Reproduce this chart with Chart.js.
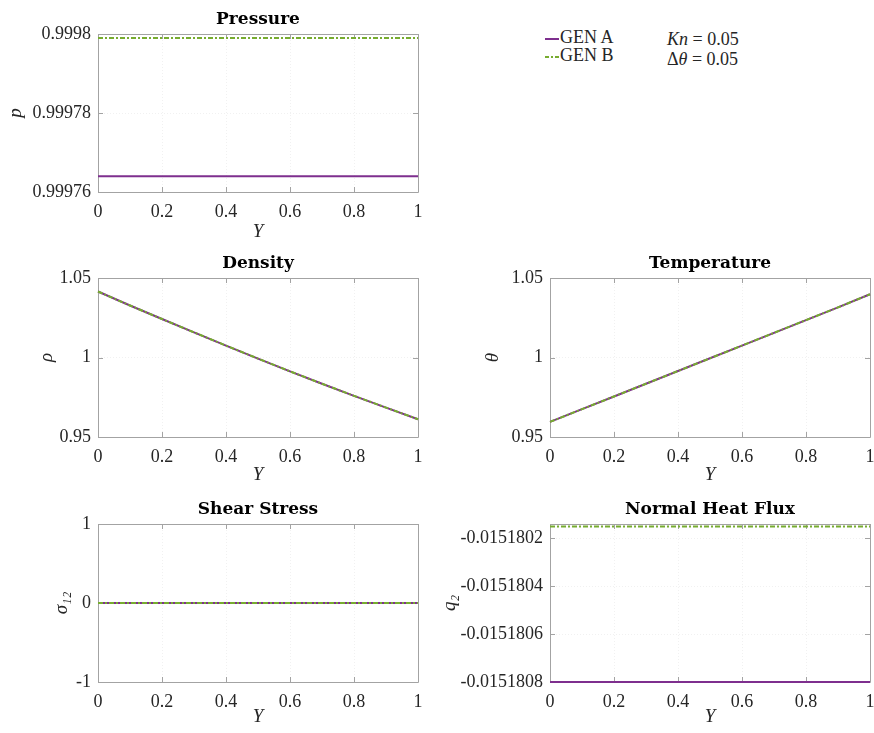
<!DOCTYPE html>
<html>
<head>
<meta charset="utf-8">
<script src="https://cdn.jsdelivr.net/npm/chart.js@4.4.1/dist/chart.umd.min.js"></script>
<style>
  html, body { margin: 0; padding: 0; background: #fff; }
  body { width: 874px; height: 733px; position: relative; overflow: hidden; }
  .painel { position: absolute; }
  .legenda {
    position: absolute;
    font-family: "Liberation Serif", serif;
    font-size: 18px;
    color: #262626;
    line-height: 18px;
  }
  .legenda svg { vertical-align: middle; margin-right: 1px; }
</style>
</head>
<body>
<div class="painel" style="left:0;top:0;width:437px;height:245px"><canvas id="graficoPressao"></canvas></div>
<div class="painel" style="left:0;top:245px;width:437px;height:245px"><canvas id="graficoDensidade"></canvas></div>
<div class="painel" style="left:437px;top:245px;width:437px;height:245px"><canvas id="graficoTemperatura"></canvas></div>
<div class="painel" style="left:0;top:490px;width:437px;height:243px"><canvas id="graficoCisalhamento"></canvas></div>
<div class="painel" style="left:437px;top:490px;width:437px;height:243px"><canvas id="graficoFluxo"></canvas></div>

<div class="legenda" style="left:545px;top:28px">
  <div><svg width="14" height="6"><line x1="0" y1="3" x2="14" y2="3" stroke="#7E2F8E" stroke-width="2"/></svg>GEN A</div>
  <div><svg width="14" height="6"><line x1="0" y1="3" x2="14" y2="3" stroke="#77AC30" stroke-width="2" stroke-dasharray="4,2,2,2"/></svg>GEN B</div>
</div>
<div class="legenda" style="left:667px;top:29px;line-height:20px">
  <div><i>Kn</i> = 0.05</div>
  <div>&Delta;<i>&theta;</i> = 0.05</div>
</div>

<script>
// posicoes ao longo do canal
const posY = [0, 0.1, 0.2, 0.3, 0.4, 0.5, 0.6, 0.7, 0.8, 0.9, 1];

const pressaoGenA = [0.999764, 0.999764, 0.999764, 0.999764, 0.999764, 0.999764, 0.999764, 0.999764, 0.999764, 0.999764, 0.999764];
const pressaoGenB = [0.999799, 0.999799, 0.999799, 0.999799, 0.999799, 0.999799, 0.999799, 0.999799, 0.999799, 0.999799, 0.999799];

const densidadeGenA = [1.0415, 1.0327, 1.0242, 1.0158, 1.0075, 0.9993, 0.9913, 0.9835, 0.9759, 0.9685, 0.9612];
const densidadeGenB = [1.0415, 1.0327, 1.0242, 1.0158, 1.0075, 0.9993, 0.9913, 0.9835, 0.9759, 0.9685, 0.9612];

const temperaturaGenA = [0.9595, 0.9675, 0.9755, 0.9835, 0.9915, 0.9995, 1.0075, 1.0155, 1.0235, 1.0315, 1.0398];
const temperaturaGenB = [0.9595, 0.9675, 0.9755, 0.9835, 0.9915, 0.9995, 1.0075, 1.0155, 1.0235, 1.0315, 1.0398];

const cisalhamentoGenA = [0, 0, 0, 0, 0, 0, 0, 0, 0, 0, 0];
const cisalhamentoGenB = [0, 0, 0, 0, 0, 0, 0, 0, 0, 0, 0];

const fluxoGenA = [-0.0151808, -0.0151808, -0.0151808, -0.0151808, -0.0151808, -0.0151808, -0.0151808, -0.0151808, -0.0151808, -0.0151808, -0.0151808];
const fluxoGenB = [-0.01518015, -0.01518015, -0.01518015, -0.01518015, -0.01518015, -0.01518015, -0.01518015, -0.01518015, -0.01518015, -0.01518015, -0.01518015];

// ticks
const xTicks = [0, 0.2, 0.4, 0.6, 0.8, 1];
const xTickLabels = ["0", "0.2", "0.4", "0.6", "0.8", "1"];
const pressaoTicks = [0.99976, 0.99978, 0.9998];
const pressaoTickLabels = ["0.99976", "0.99978", "0.9998"];
const densidadeTicks = [0.95, 1, 1.05];
const densidadeTickLabels = ["0.95", "1", "1.05"];
const temperaturaTicks = [0.95, 1, 1.05];
const temperaturaTickLabels = ["0.95", "1", "1.05"];
const cisalhamentoTicks = [-1, 0, 1];
const cisalhamentoTickLabels = ["-1", "0", "1"];
const fluxoTicks = [-0.0151808, -0.0151806, -0.0151804, -0.0151802];
const fluxoTickLabels = ["-0.0151808", "-0.0151806", "-0.0151804", "-0.0151802"];

const corGenA = "#7E2F8E";
const corGenB = "#77AC30";
const corEixo = "#a3a3a3";
const corTexto = "#262626";
const fonteSerif = "'Liberation Serif', serif";

// moldura estilo matlab: caixa, ticks para dentro e titulo
const molduraPlugin = {
  id: "moldura",
  beforeDatasetsDraw(chart, args, opts) {
    const { ctx, chartArea } = chart;
    const { left, right, top, bottom } = chartArea;
    const tam = 5;
    ctx.save();
    ctx.strokeStyle = corEixo;
    ctx.lineWidth = 1;
    ctx.beginPath();
    ctx.rect(Math.round(left) + 0.5, Math.round(top) + 0.5, Math.round(right - left), Math.round(bottom - top));
    chart.scales.x.ticks.forEach(t => {
      const px = Math.round(chart.scales.x.getPixelForValue(t.value)) + 0.5;
      ctx.moveTo(px, bottom); ctx.lineTo(px, bottom - tam);
      ctx.moveTo(px, top); ctx.lineTo(px, top + tam);
    });
    chart.scales.y.ticks.forEach(t => {
      const py = Math.round(chart.scales.y.getPixelForValue(t.value)) + 0.5;
      ctx.moveTo(left, py); ctx.lineTo(left + tam, py);
      ctx.moveTo(right, py); ctx.lineTo(right - tam, py);
    });
    ctx.stroke();

    ctx.fillStyle = "#000";
    ctx.font = "bold 17px 'DejaVu Serif', serif";
    ctx.textAlign = "center";
    ctx.textBaseline = "middle";
    ctx.fillText(opts.texto, (left + right) / 2, top - 14);
    ctx.restore();
  }
};

function criarGrafico(canvasId, cfg) {
  const canvas = document.getElementById(canvasId);
  return new Chart(canvas, {
    type: "line",
    data: {
      datasets: [
        {
          label: "GEN A",
          data: posY.map((x, i) => ({ x: x, y: cfg.genA[i] })),
          borderColor: corGenA,
          borderWidth: 2,
          pointRadius: 0,
          tension: 0,
          clip: 2,
          order: 1
        },
        {
          label: "GEN B",
          data: posY.map((x, i) => ({ x: x, y: cfg.genB[i] })),
          borderColor: corGenB,
          borderWidth: 2,
          borderDash: [5, 2, 2, 2],
          pointRadius: 0,
          tension: 0,
          clip: 2,
          order: 0
        }
      ]
    },
    options: {
      responsive: true,
      maintainAspectRatio: false,
      animation: false,
      layout: {
        padding: { top: cfg.padTop, right: cfg.padRight, left: 0, bottom: 0 }
      },
      scales: {
        x: {
          type: "linear",
          min: 0,
          max: 1,
          afterBuildTicks: scale => {
            scale.ticks = xTicks.map(v => ({ value: v }));
          },
          afterFit: scale => {
            scale.height = cfg.alturaX;
            // sem folga extra para o rotulo "1" na borda
            scale.paddingLeft = 0;
            scale.paddingRight = 0;
          },
          ticks: {
            padding: 9,
            color: corTexto,
            font: { family: fonteSerif, size: 18 },
            maxRotation: 0,
            autoSkip: false,
            callback: (v, i) => xTickLabels[i]
          },
          grid: { color: "#f1f1f1", lineWidth: 1, drawTicks: false },
          border: { display: false, dash: [1, 2] },
          title: {
            display: true,
            text: "Y",
            color: corTexto,
            font: { family: fonteSerif, size: 19, style: "italic" },
            padding: { top: 0, bottom: cfg.padTituloX }
          }
        },
        y: {
          type: "linear",
          min: cfg.min,
          max: cfg.max,
          afterBuildTicks: scale => {
            scale.ticks = cfg.ticks.map(v => ({ value: v }));
          },
          afterFit: scale => {
            scale.width = cfg.larguraY;
          },
          ticks: {
            padding: 7,
            color: corTexto,
            font: { family: fonteSerif, size: 18 },
            autoSkip: false,
            callback: (v, i) => cfg.tickLabels[i]
          },
          grid: { color: "#f1f1f1", lineWidth: 1, drawTicks: false },
          border: { display: false, dash: [1, 2] },
          title: {
            display: true,
            text: cfg.rotulo,
            color: corTexto,
            font: { family: fonteSerif, size: 19, style: "italic" },
            padding: { top: cfg.padTituloY, bottom: 0 }
          }
        }
      },
      plugins: {
        legend: { display: false },
        tooltip: { enabled: false },
        moldura: { texto: cfg.titulo }
      }
    },
    plugins: [molduraPlugin]
  });
}

criarGrafico("graficoPressao", {
  titulo: "Pressure", rotulo: "p",
  genA: pressaoGenA, genB: pressaoGenB,
  min: 0.99976, max: 0.9998, ticks: pressaoTicks, tickLabels: pressaoTickLabels,
  padTop: 34, padRight: 19, larguraY: 98, alturaX: 53, padTituloY: 5, padTituloX: 2
});

criarGrafico("graficoDensidade", {
  titulo: "Density", rotulo: "ρ",
  genA: densidadeGenA, genB: densidadeGenB,
  min: 0.95, max: 1.05, ticks: densidadeTicks, tickLabels: densidadeTickLabels,
  padTop: 33, padRight: 19, larguraY: 98, alturaX: 53, padTituloY: 36, padTituloX: 4
});

criarGrafico("graficoTemperatura", {
  titulo: "Temperature", rotulo: "θ",
  genA: temperaturaGenA, genB: temperaturaGenB,
  min: 0.95, max: 1.05, ticks: temperaturaTicks, tickLabels: temperaturaTickLabels,
  padTop: 33, padRight: 4, larguraY: 113, alturaX: 53, padTituloY: 45, padTituloX: 4
});

criarGrafico("graficoCisalhamento", {
  titulo: "Shear Stress", rotulo: "σ₁₂",
  genA: cisalhamentoGenA, genB: cisalhamentoGenB,
  min: -1, max: 1, ticks: cisalhamentoTicks, tickLabels: cisalhamentoTickLabels,
  padTop: 34, padRight: 19, larguraY: 98, alturaX: 51, padTituloY: 51, padTituloX: 5
});

criarGrafico("graficoFluxo", {
  titulo: "Normal Heat Flux", rotulo: "q₂",
  genA: fluxoGenA, genB: fluxoGenB,
  min: -0.0151808, max: -0.01518014, ticks: fluxoTicks, tickLabels: fluxoTickLabels,
  padTop: 34, padRight: 4, larguraY: 113, alturaX: 51, padTituloY: 2, padTituloX: 5
});
</script>
</body>
</html>
